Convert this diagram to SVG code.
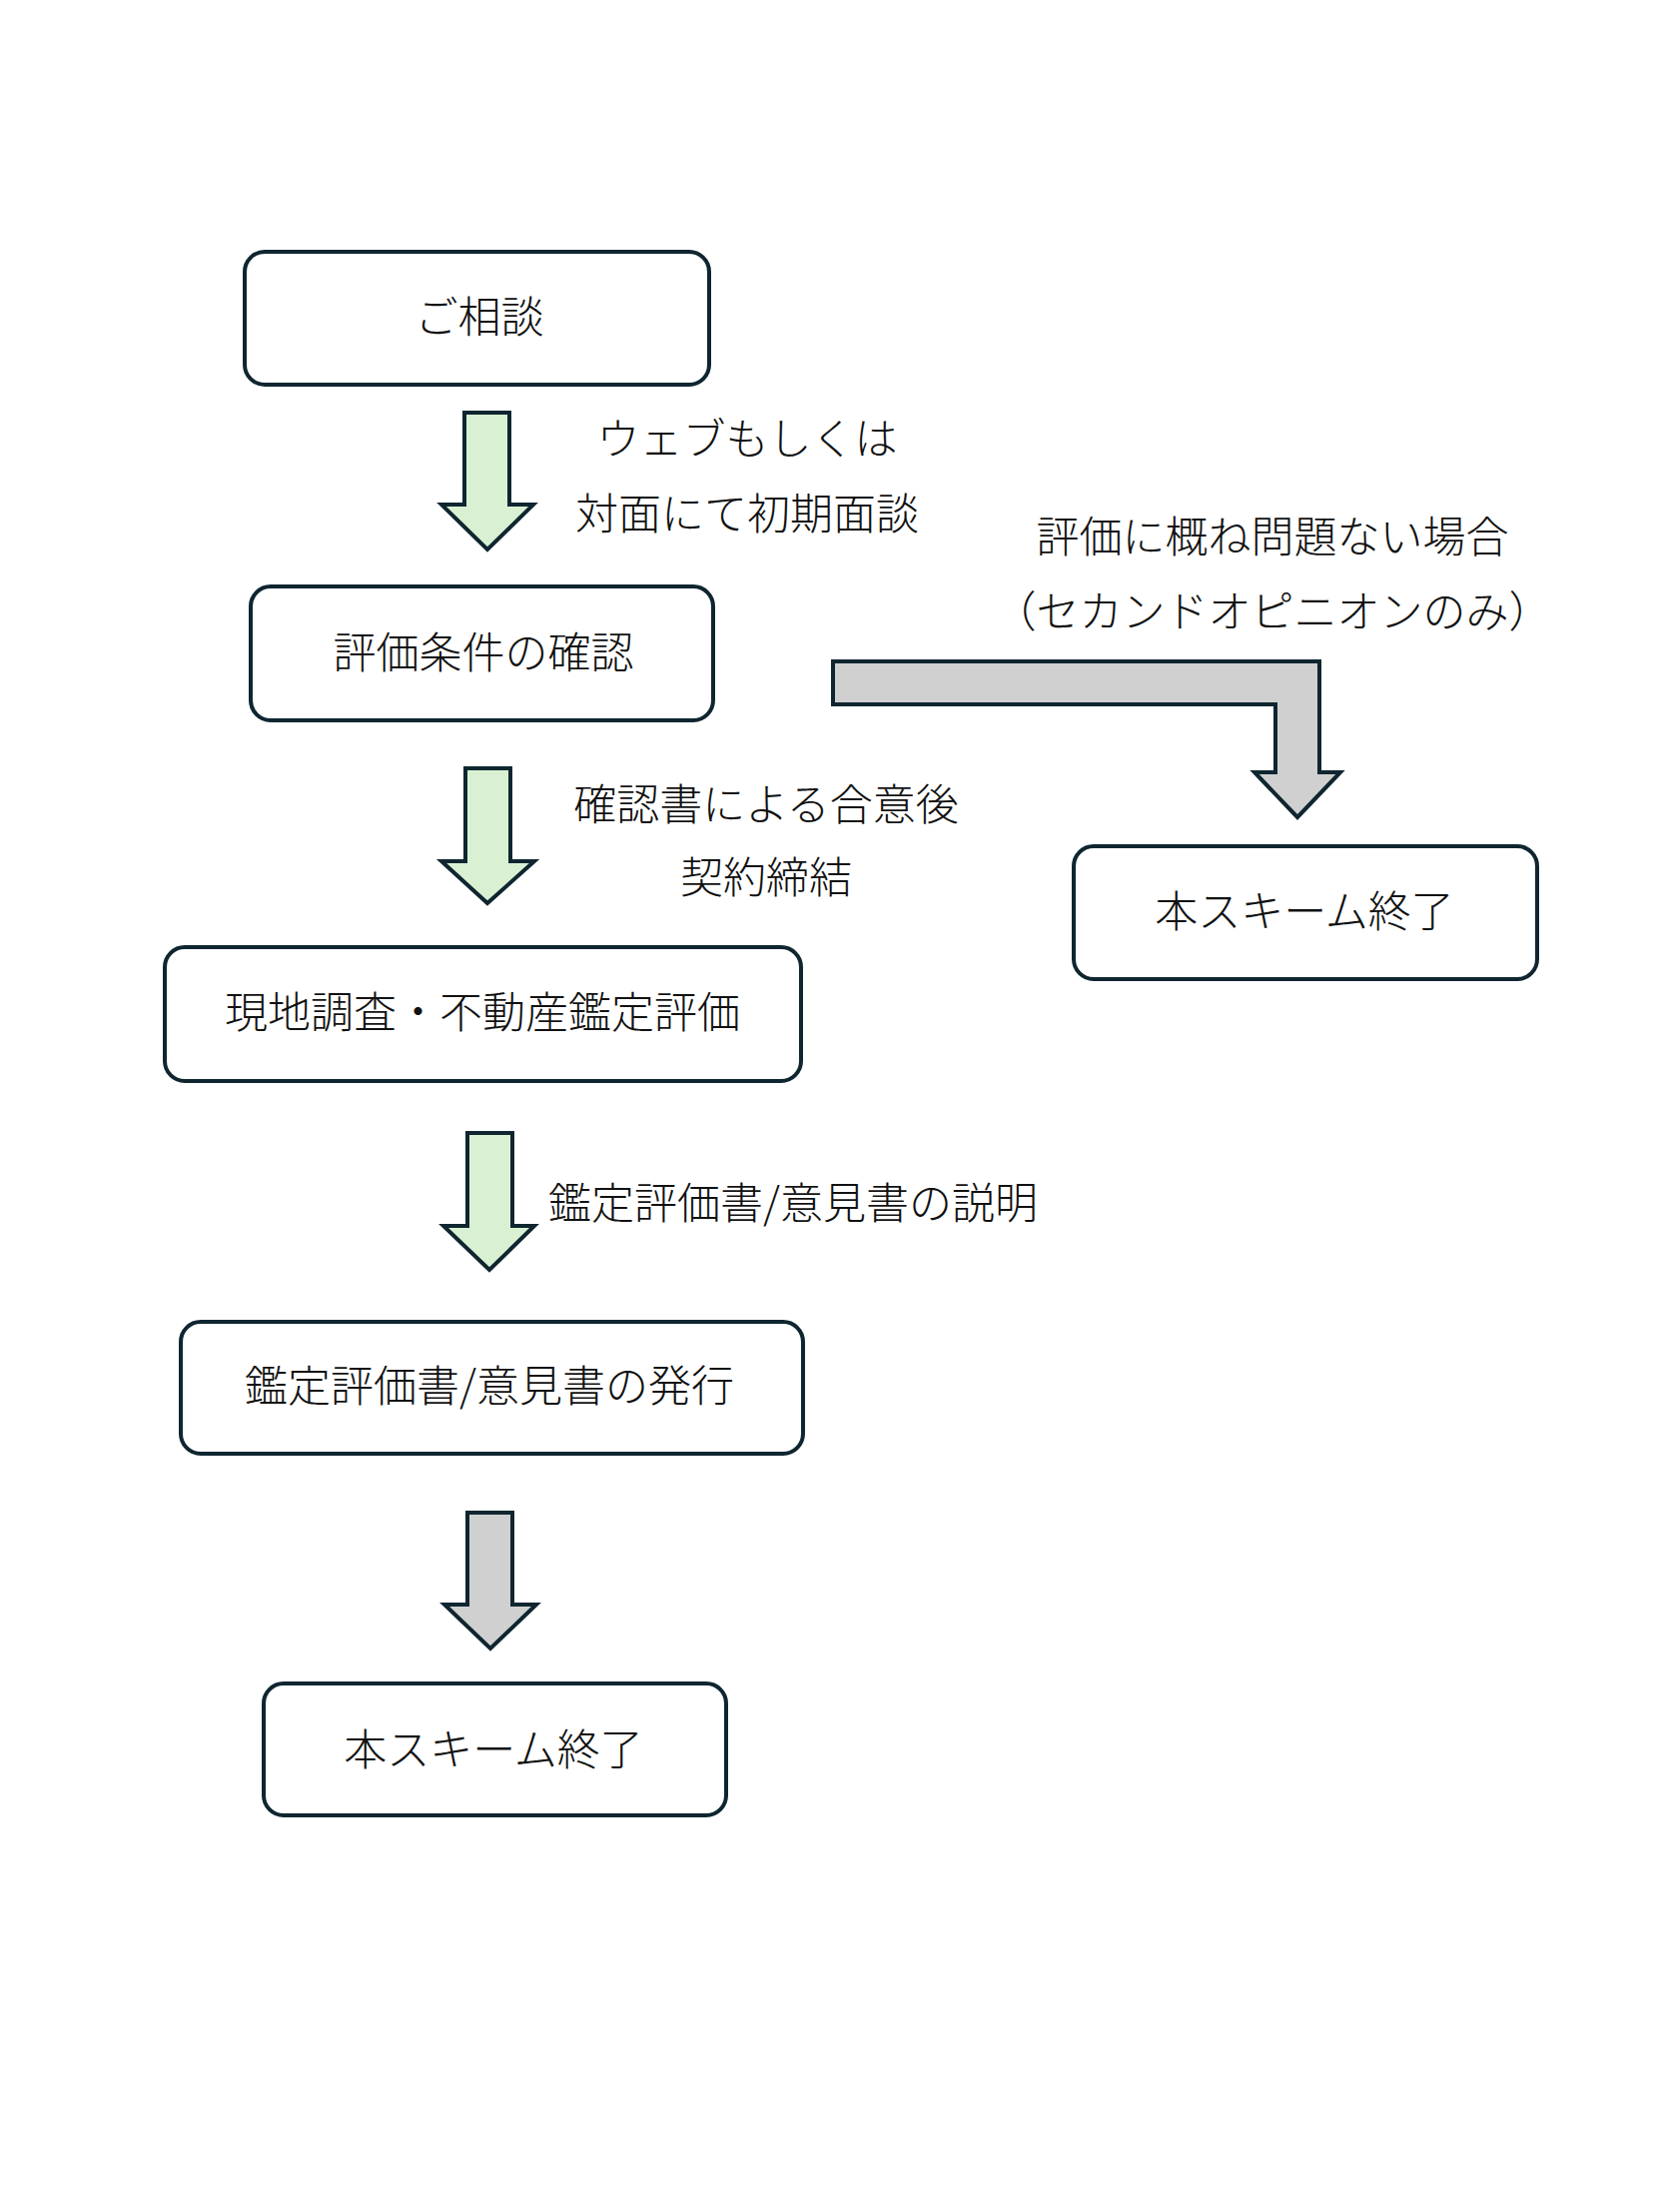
<svg xmlns="http://www.w3.org/2000/svg" width="1670" height="2214" viewBox="0 0 1670 2214">
<style>
.box{fill:#ffffff;stroke:#0f2630;stroke-width:4}
.green{fill:#d9f1d2;stroke:#0f2630;stroke-width:4;stroke-linejoin:miter}
.gray{fill:#d0d0d0;stroke:#0f2630;stroke-width:4;stroke-linejoin:miter}
text{font-family:"Noto Sans CJK JP","Noto Sans",sans-serif;font-size:43px;font-weight:300;fill:#111111;dominant-baseline:central}
.c{text-anchor:middle}
</style>
<rect width="1670" height="2214" fill="#ffffff"/>
<g id="connectors">
<path class="green" d="M465,413 L510,413 L510,505 L534,505 L488,550 L442,505 L465,505 Z"/>
<path class="green" d="M466,769 L511,769 L511,862 L535,862 L488,904 L442,862 L466,862 Z"/>
<path class="green" d="M468,1134 L513,1134 L513,1227 L535,1227 L490,1271 L444,1227 L468,1227 Z"/>
<path class="gray" d="M834,662 L1321,662 L1321,773 L1342,773 L1299,818 L1256,773 L1277,773 L1277,705 L834,705 Z"/>
<path class="gray" d="M468,1514 L513,1514 L513,1606 L537,1606 L491,1650 L445,1606 L468,1606 Z"/>
<text class="c" x="748" y="436">ウェブもしくは</text>
<text class="c" x="748" y="511">対面にて初期面談</text>
<text class="c" x="767" y="802">確認書による合意後</text>
<text class="c" x="767" y="875">契約締結</text>
<text class="c" x="1274" y="534">評価に概ね問題ない場合</text>
<text class="c" x="1274" y="609">（セカンドオピニオンのみ）</text>
<text x="549" y="1201">鑑定評価書/意見書の説明</text>
</g>
<g id="node-consult">
<rect class="box" x="245" y="252" width="465" height="133" rx="20"/>
<text class="c" x="480" y="314">ご相談</text>
</g>
<g id="node-conditions">
<rect class="box" x="251" y="587" width="463" height="134" rx="20"/>
<text class="c" x="484" y="650">評価条件の確認</text>
</g>
<g id="node-end-right">
<rect class="box" x="1075" y="847" width="464" height="133" rx="20"/>
<text class="c" x="1306" y="909">本スキーム終了</text>
</g>
<g id="node-survey">
<rect class="box" x="165" y="948" width="637" height="134" rx="20"/>
<text class="c" x="483" y="1010">現地調査・不動産鑑定評価</text>
</g>
<g id="node-issue">
<rect class="box" x="181" y="1323" width="623" height="132" rx="20"/>
<text class="c" x="490" y="1384">鑑定評価書/意見書の発行</text>
</g>
<g id="node-end-bottom">
<rect class="box" x="264" y="1685" width="463" height="132" rx="20"/>
<text class="c" x="494" y="1748">本スキーム終了</text>
</g>
</svg>
